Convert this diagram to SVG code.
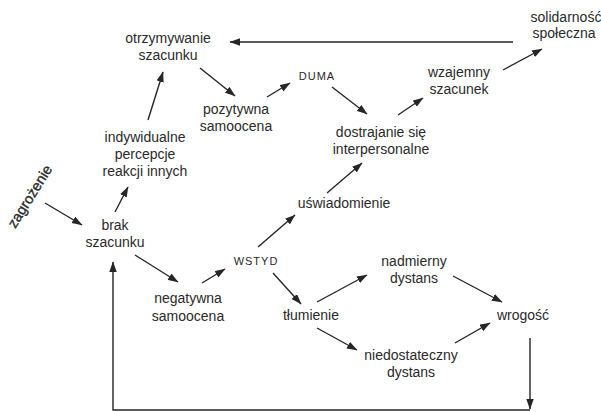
<svg xmlns="http://www.w3.org/2000/svg" width="601" height="412" viewBox="0 0 601 412">
<defs>
<marker id="ah" markerWidth="11" markerHeight="8" refX="10" refY="3.75" orient="auto" markerUnits="userSpaceOnUse">
<path d="M0,0 L10.5,3.75 L0,7.5 z" fill="#262626"/>
</marker>
<style>
text{font-family:"Liberation Sans",Arial,sans-serif;font-size:14px;fill:#2a2a2a;text-anchor:middle}
.caps{font-size:11px;letter-spacing:1px}
.rot{font-size:14.5px;stroke:#2a2a2a;stroke-width:0.35}
.cn line,.cn path{stroke:#262626;stroke-width:1.4;fill:none;marker-end:url(#ah)}
</style>
</defs>
<rect width="601" height="412" fill="#fff"/>
<g class="cn" id="connectors">
<line x1="513" y1="42" x2="230" y2="42"/>
<line x1="200" y1="68" x2="235" y2="96"/>
<line x1="267" y1="97" x2="290" y2="83"/>
<line x1="332" y1="87" x2="367" y2="114"/>
<line x1="398" y1="115" x2="423" y2="98"/>
<line x1="503" y1="70" x2="542" y2="49"/>
<line x1="148" y1="120" x2="163" y2="72"/>
<line x1="115" y1="212" x2="128" y2="187"/>
<line x1="45" y1="203" x2="82" y2="225"/>
<line x1="135" y1="255" x2="178" y2="282"/>
<line x1="202" y1="283" x2="225" y2="269"/>
<line x1="258" y1="247" x2="295" y2="215"/>
<line x1="273" y1="273" x2="301" y2="304"/>
<line x1="327" y1="193" x2="362" y2="163"/>
<line x1="317" y1="302" x2="367" y2="275"/>
<line x1="453" y1="276" x2="502" y2="302"/>
<line x1="317" y1="328" x2="357" y2="350"/>
<line x1="455" y1="343" x2="490" y2="323"/>
<line x1="530" y1="338" x2="530" y2="409"/>
<path d="M530,410 H113 V262"/>
</g>
<g id="otrzymywanie"><text x="168" y="43">otrzymywanie</text><text x="168" y="60">szacunku</text></g>
<g id="solidarnosc"><text x="566" y="22">solidarność</text><text x="564" y="38">społeczna</text></g>
<g id="pozytywna"><text x="236" y="114">pozytywna</text><text x="236" y="131">samoocena</text></g>
<g id="duma"><text class="caps" x="317" y="80">DUMA</text></g>
<g id="wzajemny"><text x="459" y="77">wzajemny</text><text x="459" y="94">szacunek</text></g>
<g id="dostrajanie"><text x="381" y="137">dostrajanie się</text><text x="381" y="154">interpersonalne</text></g>
<g id="indywidualne"><text x="145" y="142">indywidualne</text><text x="145" y="159">percepcje</text><text x="145" y="176">reakcji innych</text></g>
<g id="zagrozenie"><text class="rot" x="34" y="199" transform="rotate(-58 34 199)">zagrożenie</text></g>
<g id="brak"><text x="115" y="230">brak</text><text x="115" y="247">szacunku</text></g>
<g id="uswiadomienie"><text x="344" y="208">uświadomienie</text></g>
<g id="wstyd"><text class="caps" x="256" y="265">WSTYD</text></g>
<g id="negatywna"><text x="188" y="303">negatywna</text><text x="188" y="321">samoocena</text></g>
<g id="nadmierny"><text x="414" y="266">nadmierny</text><text x="414" y="283">dystans</text></g>
<g id="tlumienie"><text x="311" y="320">tłumienie</text></g>
<g id="wrogosc"><text x="523" y="320">wrogość</text></g>
<g id="niedostateczny"><text x="411" y="360">niedostateczny</text><text x="411" y="377">dystans</text></g>
</svg>
